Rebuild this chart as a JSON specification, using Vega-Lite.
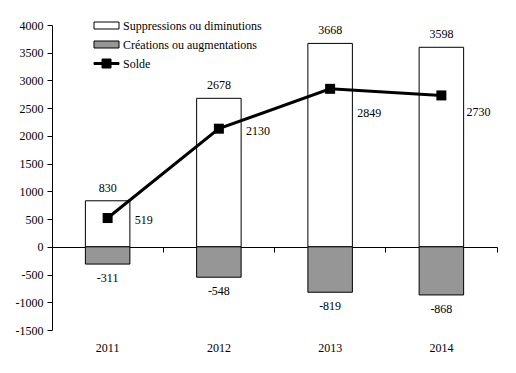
{
  "$schema": "https://vega.github.io/schema/vega-lite/v6.json",
  "autosize": "none",
  "width": 445,
  "height": 305,
  "padding": {"left": 52, "top": 25, "right": 19, "bottom": 43},
  "background": "white",
  "config": {
    "view": {"stroke": null},
    "font": "Liberation Serif",
    "axis": {"labelFont": "Liberation Serif", "labelFontSize": 12, "labelColor": "black", "domainColor": "black", "tickColor": "black", "grid": false, "title": null},
    "axisY": {"labelOverlap": false, "labelFlush": false, "tickCount": 12},
    "legend": {"labelFont": "Liberation Serif", "labelFontSize": 12, "labelColor": "black"}
  },
  "datasets": {
    "annees": [
      {"annee": "2011", "suppressions": 830, "creations": -311, "solde": 519},
      {"annee": "2012", "suppressions": 2678, "creations": -548, "solde": 2130},
      {"annee": "2013", "suppressions": 3668, "creations": -819, "solde": 2849},
      {"annee": "2014", "suppressions": 3598, "creations": -868, "solde": 2730}
    ],
    "series": [
      {"serie": "Suppressions ou diminutions"},
      {"serie": "Créations ou augmentations"},
      {"serie": "Solde"}
    ]
  },
  "resolve": {"axis": {"x": "independent"}},
  "layer": [
    {
      "data": {"name": "annees"},
      "mark": {"type": "bar", "fill": "white", "stroke": "black", "strokeWidth": 1, "width": {"band": 0.4}},
      "encoding": {
        "x": {"field": "annee", "type": "nominal", "scale": {"paddingInner": 0, "paddingOuter": 0},
              "axis": {"orient": "bottom", "domain": false, "ticks": false, "labelPadding": 12, "labelAngle": 0, "labelFont": "Liberation Serif"}},
        "y": {"field": "suppressions", "type": "quantitative",
              "scale": {"domain": [-1500, 4000], "nice": false},
              "axis": {"values": [-1500, -1000, -500, 0, 500, 1000, 1500, 2000, 2500, 3000, 3500, 4000], "tickCount": 12, "labelOverlap": false, "tickSize": 5, "labelPadding": 4, "labelFont": "Liberation Serif", "labelExpr": "'' + datum.value"}}
      }
    },
    {
      "data": {"name": "annees"},
      "mark": {"type": "bar", "fill": "#969696", "stroke": "black", "strokeWidth": 1, "width": {"band": 0.4}},
      "encoding": {
        "x": {"field": "annee", "type": "nominal",
              "axis": {"orient": "bottom", "offset": -83, "labels": false, "domain": true, "ticks": true, "bandPosition": 1, "tickSize": 5}},
        "y": {"field": "creations", "type": "quantitative"}
      }
    },
    {
      "data": {"name": "annees"},
      "mark": {"type": "line", "color": "black", "strokeWidth": 3},
      "encoding": {
        "x": {"field": "annee", "type": "nominal", "axis": null},
        "y": {"field": "solde", "type": "quantitative"}
      }
    },
    {
      "data": {"name": "annees"},
      "mark": {"type": "point", "shape": "square", "filled": true, "color": "black", "size": 100, "opacity": 1},
      "encoding": {
        "x": {"field": "annee", "type": "nominal", "axis": null},
        "y": {"field": "solde", "type": "quantitative"}
      }
    },
    {
      "data": {"name": "annees"},
      "mark": {"type": "text", "baseline": "middle", "dy": -13, "fontSize": 12, "font": "Liberation Serif", "color": "black"},
      "encoding": {
        "x": {"field": "annee", "type": "nominal", "axis": null},
        "y": {"field": "suppressions", "type": "quantitative"},
        "text": {"field": "suppressions", "type": "nominal"}
      }
    },
    {
      "data": {"name": "annees"},
      "mark": {"type": "text", "baseline": "middle", "dy": 14, "fontSize": 12, "font": "Liberation Serif", "color": "black"},
      "encoding": {
        "x": {"field": "annee", "type": "nominal", "axis": null},
        "y": {"field": "creations", "type": "quantitative"},
        "text": {"field": "creations", "type": "nominal"}
      }
    },
    {
      "data": {"name": "annees"},
      "transform": [{"filter": "datum.annee == '2011' || datum.annee == '2012'"}],
      "mark": {"type": "text", "baseline": "middle", "align": "left", "dx": 27, "dy": 2, "fontSize": 12, "font": "Liberation Serif", "color": "black"},
      "encoding": {
        "x": {"field": "annee", "type": "nominal", "axis": null},
        "y": {"field": "solde", "type": "quantitative"},
        "text": {"field": "solde", "type": "nominal"}
      }
    },
    {
      "data": {"name": "annees"},
      "transform": [{"filter": "datum.annee == '2013'"}],
      "mark": {"type": "text", "baseline": "middle", "align": "left", "dx": 27, "dy": 24, "fontSize": 12, "font": "Liberation Serif", "color": "black"},
      "encoding": {
        "x": {"field": "annee", "type": "nominal", "axis": null},
        "y": {"field": "solde", "type": "quantitative"},
        "text": {"field": "solde", "type": "nominal"}
      }
    },
    {
      "data": {"name": "annees"},
      "transform": [{"filter": "datum.annee == '2014'"}],
      "mark": {"type": "text", "baseline": "middle", "align": "left", "dx": 25, "dy": 17, "fontSize": 12, "font": "Liberation Serif", "color": "black"},
      "encoding": {
        "x": {"field": "annee", "type": "nominal", "axis": null},
        "y": {"field": "solde", "type": "quantitative"},
        "text": {"field": "solde", "type": "nominal"}
      }
    },
    {
      "data": {"name": "series"},
      "mark": {"type": "point", "filled": true, "opacity": 0, "size": 0},
      "encoding": {
        "fill": {"field": "serie", "type": "nominal",
                  "scale": {"domain": ["Suppressions ou diminutions", "Créations ou augmentations", "Solde"], "range": ["white", "#969696", "black"]},
                  "legend": {"orient": "none", "legendX": 44, "legendY": -10, "title": null, "padding": 0, "symbolSize": 400, "labelOffset": 6, "rowPadding": 2, "labelFont": "Liberation Serif", "labelFontSize": 12,
                             "encode": {"symbols": {"update": {"stroke": {"value": "black"}, "strokeWidth": {"value": 1}, "opacity": {"value": 1}, "strokeOpacity": {"value": 1}, "fillOpacity": {"value": 1}}}}}},
        "shape": {"field": "serie", "type": "nominal",
                  "scale": {"domain": ["Suppressions ou diminutions", "Créations ou augmentations", "Solde"],
                            "range": ["M-1.25,-0.35H1.25V0.35H-1.25Z", "M-1.25,-0.35H1.25V0.35H-1.25Z", "M-1.25,-0.1H1.25V0.1H-1.25Z M-0.45,-0.45H0.45V0.45H-0.45Z"]},
                  "legend": {"orient": "none", "legendX": 44, "legendY": -10, "title": null, "padding": 0, "symbolSize": 400, "labelOffset": 6, "rowPadding": 2, "labelFont": "Liberation Serif", "labelFontSize": 12,
                             "encode": {"symbols": {"update": {"stroke": {"value": "black"}, "strokeWidth": {"value": 1}, "opacity": {"value": 1}, "strokeOpacity": {"value": 1}, "fillOpacity": {"value": 1}}}}}}
      }
    }
  ]
}
